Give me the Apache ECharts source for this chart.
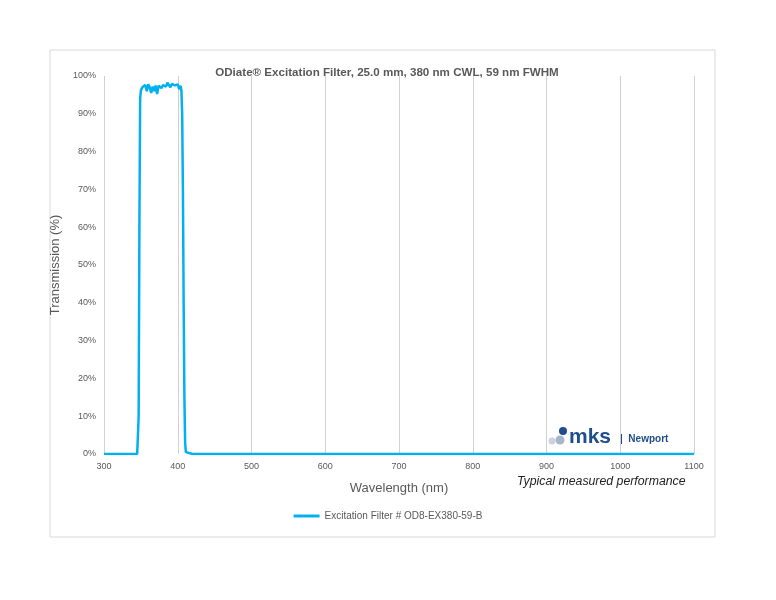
<!DOCTYPE html><html><head><meta charset="utf-8"><script src="https://cdn.jsdelivr.net/npm/echarts@6/dist/echarts.min.js"></script>
<style>body{margin:0;background:#fff}#c{width:776px;height:600px}</style></head><body><div id="c"></div><script>
const wavelengths=[300,320,340,345,346,347,348,349,350,352,354,356,358,360,362,364,366,368,370,372,374,376,378,380,382,384,386,388,390,392,394,396,398,400,402,404,405,406,407,408,409,410,411,412,420,500,600,700,800,900,1000,1100];
const transmission=[0,0,0,0,0.3,10,60,94,96.2,97,96.5,97.6,96,97.8,97,95.5,97.2,96,97.5,95.2,97.4,97.8,96.8,97.6,98,97.2,98.2,97.8,97,97.9,98.3,97.5,97,97.8,96.5,97.4,96,90,70,40,15,3,0.5,0,0,0,0,0,0,0,0,0];
const xTicks=[300,400,500,600,700,800,900,1000,1100];
const seriesName='Excitation Filter # OD8-EX380-59-B';
const chart=echarts.init(document.getElementById('c'));
chart.setOption({
animation:false,
textStyle:{fontFamily:'Liberation Sans'},
title:{text:'ODiate® Excitation Filter, 25.0 mm, 380 nm CWL, 59 nm FWHM',left:382,top:62,textAlign:'center',textStyle:{fontSize:11.6,fontWeight:'bold',color:'#595959',fontFamily:'Liberation Sans'}},
grid:{left:104,right:82,top:76,bottom:146},
xAxis:{type:'value',min:300,max:1100,interval:100,name:'Wavelength (nm)',nameLocation:'middle',nameGap:28,nameTextStyle:{fontSize:13,color:'#595959'},
axisLine:{show:false},axisTick:{show:false},axisLabel:{fontSize:9,color:'#595959',formatter:v=>String(v)},splitLine:{show:true,lineStyle:{color:'#d0d0d0'}}},
yAxis:{type:'value',min:0,max:100,interval:10,name:'Transmission (%)',nameLocation:'middle',nameGap:40,nameTextStyle:{fontSize:13,color:'#595959'},
axisLine:{show:false},axisTick:{show:false},axisLabel:{fontSize:9,color:'#595959',formatter:'{value}%'},splitLine:{show:false}},
legend:{bottom:74,left:'center',itemWidth:26,itemHeight:3,icon:'rect',textStyle:{fontSize:10,color:'#595959'},data:[seriesName]},
series:[{name:seriesName,type:'line',data:wavelengths.map((w,i)=>[w,transmission[i]]),showSymbol:false,lineStyle:{color:'#00B0F0',width:2.5},itemStyle:{color:'#00B0F0'}}],
graphic:[
{type:'rect',shape:{x:50,y:50,width:665,height:487},style:{fill:'none',stroke:'#d9d9d9',lineWidth:1}},
{type:'text',left:517,top:476,style:{text:'Typical measured performance',font:'italic 12.3px "Liberation Sans"',fill:'#222'}},
{type:'circle',shape:{cx:552,cy:441,r:3.5},style:{fill:'#c9d3e0'}},
{type:'circle',shape:{cx:560,cy:440,r:4.5},style:{fill:'#a7b6cc'}},
{type:'circle',shape:{cx:563,cy:431,r:4},style:{fill:'#1f4e8c'}},
{type:'text',left:569,top:427,style:{text:'mks',font:'bold 21px "Liberation Sans"',fill:'#1f4e8c'}},
{type:'text',left:620,top:434,style:{text:'|  Newport',font:'bold 10px "Liberation Sans"',fill:'#1f4e8c'}}
]});
</script></body></html>
